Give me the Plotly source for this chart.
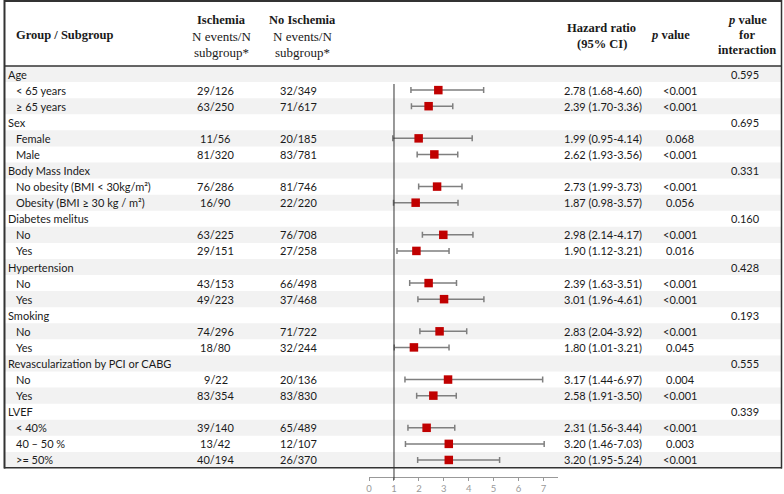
import plotly.graph_objects as go

# ---------------- data ----------------
group_labels = ["Age", "Sex", "Body Mass Index", "Diabetes melitus", "Hypertension",
                "Smoking", "Revascularization by PCI or CABG", "LVEF"]
group_sizes = [2, 2, 2, 2, 2, 2, 2, 3]
p_interaction = ["0.595", "0.695", "0.331", "0.160", "0.428", "0.193", "0.555", "0.339"]

subgroup_labels = ["< 65 years", "≥ 65 years", "Female", "Male",
                   "No obesity (BMI < 30kg/m²)", "Obesity (BMI ≥ 30 kg / m²)",
                   "No", "Yes", "No", "Yes", "No", "Yes", "No", "Yes",
                   "< 40%", "40 – 50 %", ">= 50%"]
ischemia = ["29/126", "63/250", "11/56", "81/320", "76/286", "16/90", "63/225", "29/151",
            "43/153", "49/223", "74/296", "18/80", "9/22", "83/354", "39/140", "13/42", "40/194"]
no_ischemia = ["32/349", "71/617", "20/185", "83/781", "81/746", "22/220", "76/708", "27/258",
               "66/498", "37/468", "71/722", "32/244", "20/136", "83/830", "65/489", "12/107", "26/370"]
hr = [2.78, 2.39, 1.99, 2.62, 2.73, 1.87, 2.98, 1.90, 2.39, 3.01, 2.83, 1.80, 3.17, 2.58, 2.31, 3.20, 3.20]
ci_low = [1.68, 1.70, 0.95, 1.93, 1.99, 0.98, 2.14, 1.12, 1.63, 1.96, 2.04, 1.01, 1.44, 1.91, 1.56, 1.46, 1.95]
ci_high = [4.60, 3.36, 4.14, 3.56, 3.73, 3.57, 4.17, 3.21, 3.51, 4.61, 3.92, 3.21, 6.97, 3.50, 3.44, 7.03, 5.24]
p_value = ["<0.001", "<0.001", "0.068", "<0.001", "<0.001", "0.056", "<0.001", "0.016", "<0.001",
           "<0.001", "<0.001", "0.045", "0.004", "<0.001", "<0.001", "0.003", "<0.001"]
x_ticks = [0, 1, 2, 3, 4, 5, 6, 7]

# ---------------- layout constants ----------------
W, Hh = 784, 494
TOP = 66.0          # header bottom line (px)
RH = 16.08          # row height (px)
AXIS_Y = 476.7      # x-axis line (px)
BODY_FONT = "Lato, 'Open Sans', sans-serif"
HEAD_FONT = "'Liberation Serif', 'Times New Roman', serif"
TXT = "#1a1a1a"
BODY_SIZE = 11
HB = 12.5   # bold header size
HR_ = 13    # regular header size


def px(x):
    return x / W


def py(y):
    return 1 - y / Hh


def row_px(i):
    return TOP + RH * (i + 0.5)


# build row list
rows = []  # (kind, index)
k = 0
for g, n in enumerate(group_sizes):
    rows.append(("group", g))
    for _ in range(n):
        rows.append(("sub", k))
        k += 1
n_rows = len(rows)
sub_row_index = [i for i, r in enumerate(rows) if r[0] == "sub"]

shapes = []
annotations = []

# row shading
for i in range(n_rows):
    if i % 2 == 0:
        shapes.append(dict(type="rect", xref="paper", yref="paper",
                           x0=px(2), x1=px(781), y0=py(TOP + RH * i), y1=py(TOP + RH * (i + 1)),
                           fillcolor="#f2f2f2", line=dict(width=0), layer="below"))

# borders
BC = "#333333"
shapes += [
    dict(type="line", xref="paper", yref="paper", x0=px(1), x1=px(782), y0=py(1), y1=py(1),
         line=dict(color=BC, width=2)),
    dict(type="line", xref="paper", yref="paper", x0=px(1.5), x1=px(1.5), y0=py(0), y1=py(468.5),
         line=dict(color=BC, width=2)),
    dict(type="line", xref="paper", yref="paper", x0=px(781.5), x1=px(781.5), y0=py(0), y1=py(468.5),
         line=dict(color=BC, width=1.5)),
    dict(type="line", xref="paper", yref="paper", x0=px(1), x1=px(782), y0=py(TOP), y1=py(TOP),
         line=dict(color=BC, width=1.5)),
    dict(type="line", xref="paper", yref="paper", x0=px(1), x1=px(782), y0=py(467.8), y1=py(467.8),
         line=dict(color=BC, width=1.5)),
    # reference line at HR = 1
    dict(type="line", xref="x", yref="paper", x0=1, x1=1, y0=py(84), y1=py(480),
         line=dict(color="#333333", width=1)),
]


def add_text(x, y, text, anchor="center", font=BODY_FONT, size=BODY_SIZE, color=TXT):
    annotations.append(dict(x=px(x), y=py(y), xref="paper", yref="paper", text=text,
                            showarrow=False, xanchor=anchor, yanchor="middle",
                            font=dict(family=font, size=size, color=color)))


# header
add_text(11, 35, "<b>Group / Subgroup</b>", "left", HEAD_FONT, HB)
add_text(219, 20, "<b>Ischemia</b>", "center", HEAD_FONT, HB)
add_text(219, 36, "N events/N", "center", HEAD_FONT, HR_)
add_text(219, 52, "subgroup*", "center", HEAD_FONT, HR_)
add_text(301, 20, "<b>No Ischemia</b>", "center", HEAD_FONT, HB)
add_text(301, 36, "N events/N", "center", HEAD_FONT, HR_)
add_text(301, 52, "subgroup*", "center", HEAD_FONT, HR_)
add_text(601, 28, "<b>Hazard ratio</b>", "center", HEAD_FONT, HB)
add_text(601, 44, "<b>(95% CI)</b>", "center", HEAD_FONT, HB)
add_text(670, 35, "<b><i>p</i> value</b>", "center", HEAD_FONT, HB)
add_text(747, 20, "<b><i>p</i> value</b>", "center", HEAD_FONT, HB)
add_text(747, 35, "<b>for</b>", "center", HEAD_FONT, HB)
add_text(747, 50, "<b>interaction</b>", "center", HEAD_FONT, HB)

# body
for i, (kind, idx) in enumerate(rows):
    y = row_px(i)
    if kind == "group":
        add_text(3, y, group_labels[idx], "left")
        add_text(745, y, p_interaction[idx], "center")
    else:
        add_text(11, y, subgroup_labels[idx], "left")
        add_text(213.5, y, ischemia[idx], "center")
        add_text(297, y, no_ischemia[idx], "center")
        add_text(602, y, f"{hr[idx]:.2f} ({ci_low[idx]:.2f}-{ci_high[idx]:.2f})", "center")
        add_text(680, y, p_value[idx], "center")

fig = go.Figure()
fig.add_trace(go.Scatter(
    x=hr, y=sub_row_index, mode="markers",
    marker=dict(symbol="square", size=8.5, color="#c00000", line=dict(width=0)),
    error_x=dict(type="data", symmetric=False,
                 array=[h - m for h, m in zip(ci_high, hr)],
                 arrayminus=[m - l for m, l in zip(hr, ci_low)],
                 color="#7f7f7f", thickness=1.5, width=3),
    showlegend=False, hoverinfo="skip", cliponaxis=False,
))

y_bottom = (AXIS_Y - TOP) / RH - 0.5
y_top = -TOP / RH - 0.5
fig.update_layout(
    width=W, height=Hh, margin=dict(l=0, r=0, t=0, b=0),
    paper_bgcolor="white", plot_bgcolor="rgba(0,0,0,0)",
    xaxis=dict(domain=[px(367.5), px(557)], range=[0, 7.58], tickvals=x_ticks,
               ticks="outside", ticklen=3, tickcolor="#999999", tickwidth=1,
               showline=True, linecolor="#999999", linewidth=1, showgrid=False, zeroline=False,
               fixedrange=True,
               tickfont=dict(family=BODY_FONT, size=9.5, color="#9a9a9a")),
    yaxis=dict(domain=[1 - AXIS_Y / Hh, 1], range=[y_bottom, y_top], visible=False,
               showgrid=False, zeroline=False, fixedrange=True),
    shapes=shapes, annotations=annotations,
)

fig.write_html("out.html", config={"displayModeBar": False, "staticPlot": True},
               post_script="document.body.style.margin='0';document.body.style.overflow='hidden';")
